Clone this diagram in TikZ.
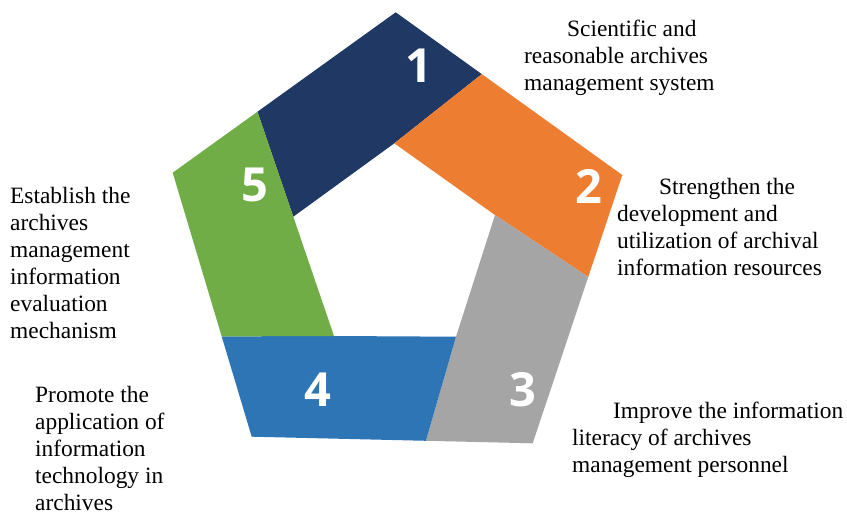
\documentclass[tikz,border=0pt]{standalone}
\usepackage{fontspec}
\setmainfont{Liberation Serif}
\newfontfamily\numfont{Open Sans}
\usepackage{tikz}
\usetikzlibrary{calc}
\usepackage{xcolor}
\definecolor{segnavy}{HTML}{203864}
\definecolor{segorange}{HTML}{ED7D31}
\definecolor{seggray}{HTML}{A5A5A5}
\definecolor{segblue}{HTML}{2E75B6}
\definecolor{seggreen}{HTML}{70AD47}

\begin{document}
\begin{tikzpicture}[x=1pt, y=-1pt,
    num/.style={text=white, inner sep=0pt, font=\numfont\bfseries\fontsize{47}{47}\selectfont},
    desc/.style={anchor=base west, align=left, inner sep=0pt, font=\fontsize{23.4}{27}\selectfont}]
  \useasboundingbox (0,0) rectangle (847,512);
  % Outer and inner corners
  \coordinate (oT) at (395.7,12.3);
  \coordinate (oR) at (622.3,175);
  \coordinate (oBR) at (532.7,443.3);
  \coordinate (oBL) at (251.7,436.7);
  \coordinate (oL) at (172.7,172.7);
  \coordinate (iT) at (394.3,143.3);
  \coordinate (iR) at (495,215);
  \coordinate (iBR) at (456,336.7);
  \coordinate (iBL) at (334,336);
  \coordinate (iL) at (293.3,216.7);
  % Split points on the outer edges
  \coordinate (s12) at ($(oT)!0.38!(oR)$);
  \coordinate (s23) at ($(oR)!0.38!(oBR)$);
  \coordinate (s34) at ($(oBR)!0.38!(oBL)$);
  \coordinate (s45) at ($(oBL)!0.38!(oL)$);
  \coordinate (s51) at ($(oL)!0.38!(oT)$);
  % The five segments
  \fill[segnavy] (s51) -- (oT) -- (s12) -- (iT) -- (iL) -- cycle;
  \fill[segorange] (s12) -- (oR) -- (s23) -- (iR) -- (iT) -- cycle;
  \fill[seggray] (s23) -- (oBR) -- (s34) -- (iBR) -- (iR) -- cycle;
  \fill[segblue] (s34) -- (oBL) -- (s45) -- (iBL) -- (iBR) -- cycle;
  \fill[seggreen] (s45) -- (oL) -- (s51) -- (iL) -- (iBL) -- cycle;
  % Numbers
  \node[num] (n1) at (419,66) {1};
  \node[num] (n2) at (589,186) {2};
  \node[num] (n3) at (523,390) {3};
  \node[num] (n4) at (318,390) {4};
  \node[num] (n5) at (255,185) {5};
  % Descriptions (anchored at the baseline of their last line)
  \node[desc] (d1) at (524,90) {\hspace*{43pt}Scientific and\\reasonable archives\\management system};
  \node[desc] (d2) at (617,275) {\hspace*{42pt}Strengthen the\\development and\\utilization of archival\\information resources};
  \node[desc] (d3) at (572,472) {\hspace*{41pt}Improve the information\\literacy of archives\\management personnel};
  \node[desc] (d4) at (35,510) {Promote the\\application of\\information\\technology in\\archives};
  \node[desc] (d5) at (10,338) {Establish the\\archives\\management\\information\\evaluation\\mechanism};
\end{tikzpicture}
\end{document}
